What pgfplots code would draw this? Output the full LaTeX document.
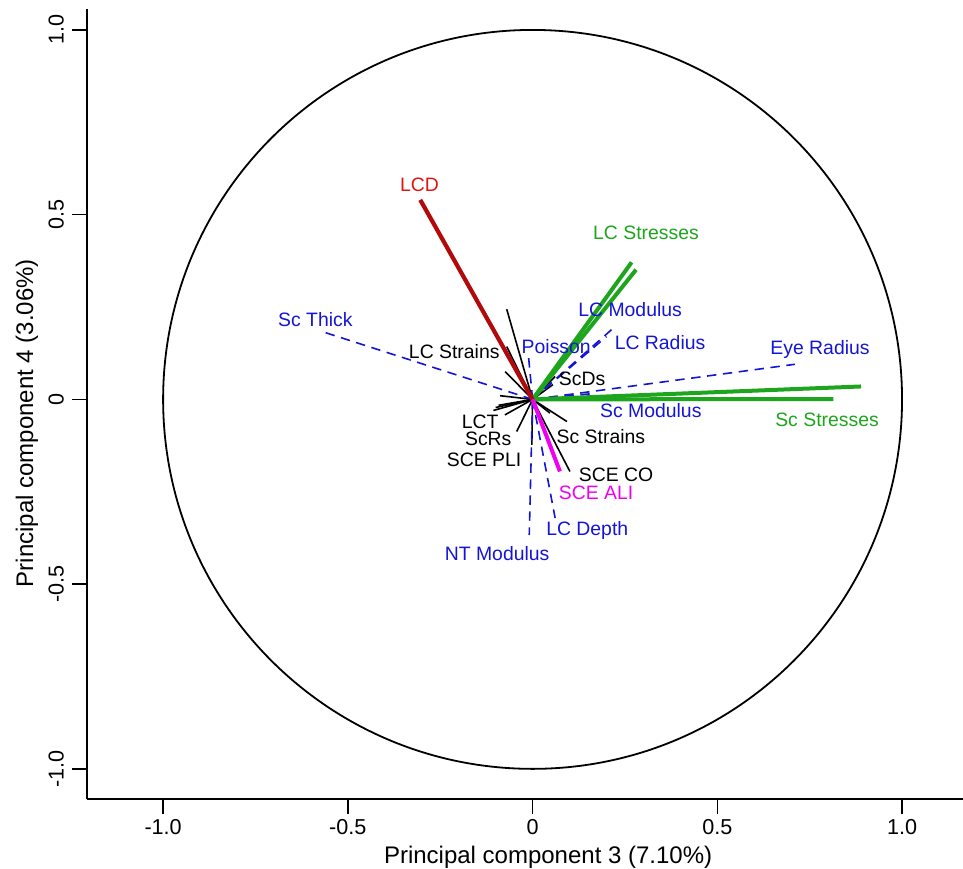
\documentclass[border=0pt]{standalone}
\usepackage{pgfplots}
\pgfplotsset{compat=1.18}
\usepackage{fontspec}
\setmainfont{Liberation Sans}
\definecolor{lcdred}{RGB}{178,10,10}
\definecolor{lcdtxt}{RGB}{225,20,20}
\definecolor{pgreen}{RGB}{30,165,30}
\definecolor{pblue}{RGB}{20,20,215}
\definecolor{pmag}{RGB}{240,0,240}
\begin{document}
\begin{tikzpicture}
\begin{axis}[
  x=184.75pt, y=184.75pt,
  xmin=-1.206, xmax=1.165, ymin=-1.082, ymax=1.057,
  axis x line*=bottom, axis y line*=left,
  axis line style={-, line width=0.9pt},
  tick style={black, line width=0.8pt},
  tick align=outside, major tick length=7.5pt,
  xtick={-1,-0.5,0,0.5,1}, xticklabels={-1.0,-0.5,0,0.5,1.0},
  ytick={-1,-0.5,0,0.5,1}, yticklabels={-1.0,-0.5,0,0.5,1.0},
  /pgf/number format/assume math mode=true,
  ticklabel style={font=\fontsize{10.8}{13}\selectfont},
  yticklabel style={rotate=90, anchor=south, yshift=0.5pt},
  xticklabel style={anchor=north, yshift=1pt},
  xlabel={Principal component 3 (7.10\%)},
  ylabel={Principal component 4 (3.06\%)},
  label style={font=\fontsize{12}{14}\selectfont},
  xlabel style={at={(axis description cs:0.5264,-0.0813)}, anchor=base},
  ylabel style={at={(axis description cs:-0.0616,0.4759)}, anchor=base, rotate=0},
  clip=false,
]
\coordinate (BBsw) at (axis cs:-1.4415,-1.2706);
\coordinate (BBne) at (axis cs:1.165,1.081);
% unit circle
\draw[black, line width=0.9pt] (axis cs:0,0) ellipse [x radius=1, y radius=1];

% black solid vectors
\addplot[black, line width=0.8pt] coordinates {(0,0) (-0.070,0.244)};
\addplot[black, line width=0.8pt] coordinates {(0,0) (-0.070,0.143)};
\addplot[black, line width=0.8pt] coordinates {(0,0) (-0.074,0.075)};
\addplot[black, line width=0.8pt] coordinates {(0,0) (-0.088,0.010)};
\addplot[black, line width=0.8pt] coordinates {(0,0) (-0.106,-0.030)};
\addplot[black, line width=0.8pt] coordinates {(0,0) (-0.100,-0.022)};
\addplot[black, line width=0.8pt] coordinates {(0,0) (-0.092,-0.016)};
\addplot[black, line width=0.8pt] coordinates {(0,0) (-0.075,-0.042)};
\addplot[black, line width=0.8pt] coordinates {(0,0) (-0.043,-0.087)};
\addplot[black, line width=0.8pt] coordinates {(0,0) (-0.002,-0.123)};
\addplot[black, line width=0.8pt] coordinates {(0,0) (0.093,-0.060)};
\addplot[black, line width=0.8pt] coordinates {(0,0) (0.047,-0.037)};
\addplot[black, line width=0.8pt] coordinates {(0,0) (0.101,-0.195)};
\addplot[black, line width=0.8pt] coordinates {(0,0) (0.061,0.062)};
\addplot[black, line width=0.8pt] coordinates {(0,0) (0.055,0.040)};

% blue dashed vectors
\addplot[pblue, line width=0.8pt, dash pattern=on 4.7pt off 3.3pt] coordinates {(0,0) (-0.571,0.184)};
\addplot[pblue, line width=0.8pt, dash pattern=on 4.7pt off 3.3pt] coordinates {(0,0) (0.710,0.095)};
\addplot[pblue, line width=0.8pt, dash pattern=on 4.7pt off 3.3pt] coordinates {(0,0) (0.223,0.197)};
\addplot[pblue, line width=0.8pt, dash pattern=on 4.7pt off 3.3pt] coordinates {(0,0) (0.200,0.170)};
\addplot[pblue, line width=0.8pt, dash pattern=on 4.7pt off 3.3pt] coordinates {(0,0) (-0.011,0.116)};
\addplot[pblue, line width=0.8pt, dash pattern=on 4.7pt off 3.3pt] coordinates {(0,0) (0.166,0.016)};
\addplot[pblue, line width=0.8pt, dash pattern=on 4.7pt off 3.3pt] coordinates {(0,0) (0.061,-0.321)};
\addplot[pblue, line width=0.8pt, dash pattern=on 4.7pt off 3.3pt] coordinates {(0,0) (-0.009,-0.367)};

% green vectors
\addplot[pgreen, line width=2pt] coordinates {(0,0) (0.268,0.371)};
\addplot[pgreen, line width=2pt] coordinates {(0,0) (0.280,0.351)};
\addplot[pgreen, line width=2pt] coordinates {(0,0) (0.889,0.035)};
\addplot[pgreen, line width=2pt] coordinates {(0,0) (0.814,0.001)};

% red and magenta
\addplot[lcdred, line width=2.1pt] coordinates {(0,0) (-0.304,0.540)};
\addplot[pmag, line width=2pt] coordinates {(0,0) (0.074,-0.195)};

% labels
\begin{scope}[font=\fontsize{9.7}{11}\selectfont, inner sep=0pt]
\node[text=lcdtxt] at (axis cs:-0.306,0.580) {LCD};
\node[text=pgreen] at (axis cs:0.307,0.450) {LC Stresses};
\node[text=pblue] at (axis cs:0.264,0.242) {LC Modulus};
\node[text=pblue] at (axis cs:-0.588,0.215) {Sc Thick};
\node[text=black] at (axis cs:-0.212,0.129) {LC Strains};
\node[text=pblue] at (axis cs:0.064,0.142) {Poisson};
\node[text=pblue] at (axis cs:0.345,0.153) {LC Radius};
\node[text=pblue] at (axis cs:0.778,0.134) {Eye Radius};
\node[text=black] at (axis cs:0.134,0.055) {ScDs};
\node[text=pblue] at (axis cs:0.320,-0.031) {Sc Modulus};
\node[text=pgreen] at (axis cs:0.797,-0.055) {Sc Stresses};
\node[text=black] at (axis cs:-0.142,-0.061) {LCT};
\node[text=black] at (axis cs:0.185,-0.101) {Sc Strains};
\node[text=black] at (axis cs:-0.120,-0.107) {ScRs};
\node[text=black] at (axis cs:-0.131,-0.164) {SCE PLI};
\node[text=black] at (axis cs:0.226,-0.204) {SCE CO};
\node[text=pmag] at (axis cs:0.172,-0.253) {SCE ALI};
\node[text=pblue] at (axis cs:0.148,-0.356) {LC Depth};
\node[text=pblue] at (axis cs:-0.096,-0.416) {NT Modulus};
\end{scope}
\end{axis}
\pgfresetboundingbox
\path[use as bounding box] (BBsw) rectangle (BBne);
\end{tikzpicture}
\end{document}
